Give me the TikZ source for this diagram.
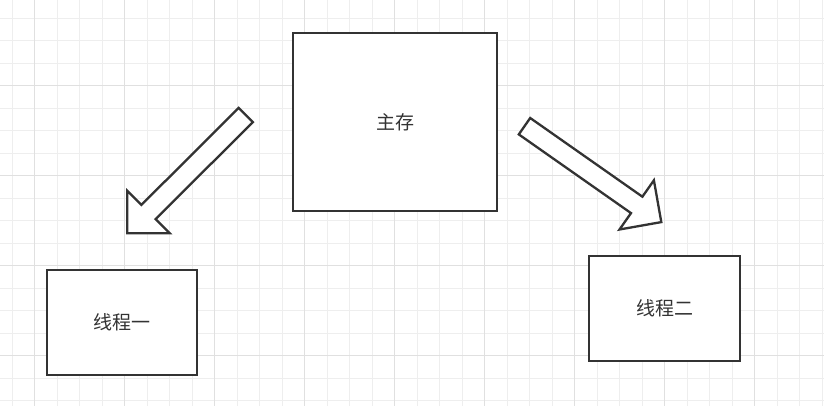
\documentclass[tikz,border=0pt]{standalone}
\usepackage{fontspec}
\newfontfamily\cjk{Noto Sans CJK SC}
\usepackage{tikz}
\usepackage{xcolor}
\definecolor{gridminor}{RGB}{238,238,238}
\definecolor{gridmajor}{RGB}{224,224,224}
\definecolor{edge}{RGB}{51,51,51}

\begin{document}
\begin{tikzpicture}[x=1pt,y=-1pt,
    every node/.style={font=\cjk\fontsize{19}{19}\selectfont, text=edge},
    box/.style={draw=edge, line width=2.8pt, fill=white, rectangle, inner sep=0pt},
    blockarrow/.style={draw=edge, line width=2.3pt, fill=white, line join=miter}]
    \useasboundingbox (0,0) rectangle (824,406);
    \fill[white] (0,0) rectangle (824,406);

    % grid
    \foreach \x in {0,...,36} {
        \draw[gridminor, line width=1pt] (12.2+22.5*\x,0) -- (12.2+22.5*\x,406);
    }
    \foreach \y in {0,...,18} {
        \draw[gridminor, line width=1pt] (0,18.3+22.5*\y) -- (824,18.3+22.5*\y);
    }
    \foreach \x in {0,...,8} {
        \draw[gridmajor, line width=1pt] (34.7+90*\x,0) -- (34.7+90*\x,406);
    }
    \foreach \y in {0,...,4} {
        \draw[gridmajor, line width=1pt] (0,85.7+90*\y) -- (824,85.7+90*\y);
    }

    \node[box, minimum width=204pt, minimum height=178pt] (main) at (395,122) {主存};
    \node[box, minimum width=150pt, minimum height=105pt] (thread1) at (122,322.5) {线程一};
    \node[box, minimum width=151pt, minimum height=105pt] (thread2) at (664.5,308.5) {线程二};

    % arrows
    \draw[blockarrow] (238.7,107.9) -- (252.9,122.1) -- (155.6,219.1) -- (169.7,233.2)
        -- (127.3,233.2) -- (127.3,190.8) -- (141.4,204.9) -- cycle;
    \draw[blockarrow] (530.2,118.0) -- (642.4,196.7) -- (653.9,180.3) -- (661.3,222.1)
        -- (619.5,229.5) -- (631.0,213.1) -- (518.8,134.4) -- cycle;

\end{tikzpicture}
\end{document}
